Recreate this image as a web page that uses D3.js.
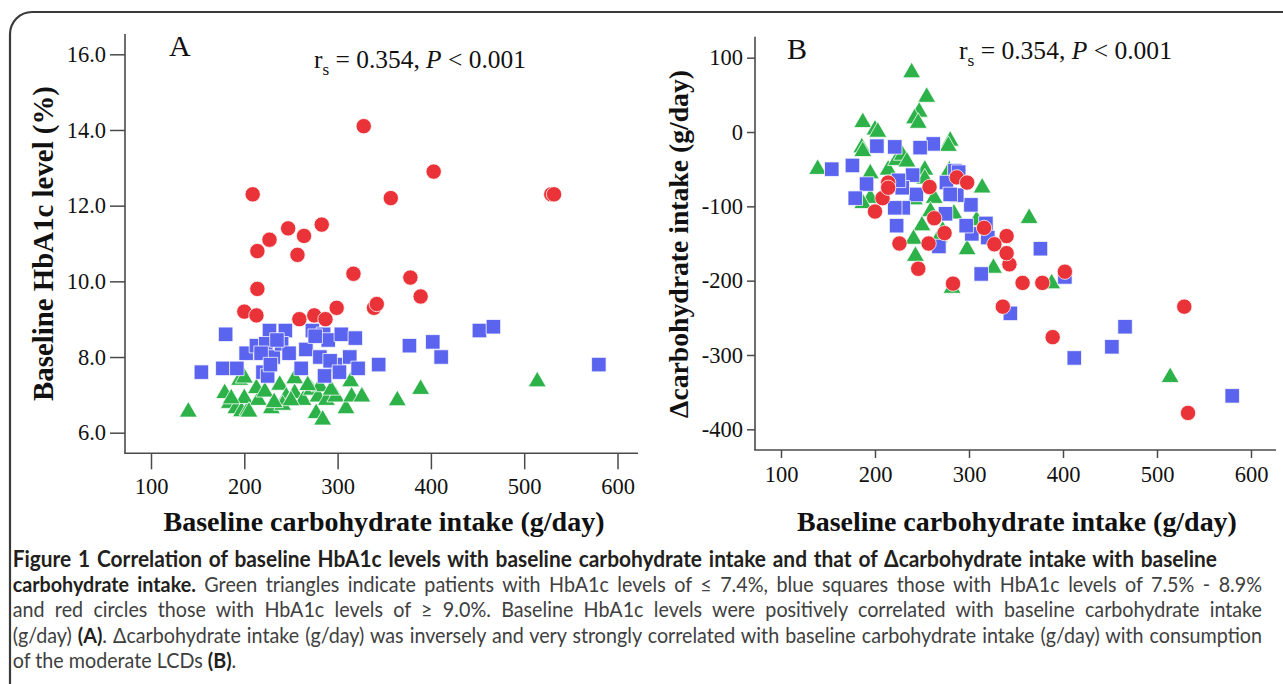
<!DOCTYPE html>
<html>
<head>
<meta charset="utf-8">
<script src="https://cdn.jsdelivr.net/npm/d3@7"></script>
<style>
html,body{margin:0;padding:0;background:#fff;overflow:hidden;}
svg{display:block;}
</style>
</head>
<body>
<svg id="chart" width="1283" height="684"></svg>
<script>
// ---------------- DATA ----------------
const xTicks = [100, 200, 300, 400, 500, 600];
const xTickLabels = ["100", "200", "300", "400", "500", "600"];
const yTicksA = [6, 8, 10, 12, 14, 16];
const yTickLabelsA = ["6.0", "8.0", "10.0", "12.0", "14.0", "16.0"];
const yTicksB = [-400, -300, -200, -100, 0, 100];
const yTickLabelsB = ["-400", "-300", "-200", "-100", "0", "100"];

const xTitle = "Baseline carbohydrate intake (g/day)";
const yTitleA = "Baseline HbA1c level (%)";
const yTitleB = "\u0394carbohydrate intake (g/day)";
const panelLetters = ["A", "B"];
const statParts = ["r", "s", " = 0.354, ", "P", " < 0.001"];

// Panel A: baseline carbohydrate intake vs baseline HbA1c (%)
const greenA = [[140,6.55],[179,7.04],[184,6.78],[191,6.64],[197,6.56],[204,6.6],[195,7.39],[200,6.91],[215,6.86],[213,7.17],[222,7.08],[229,6.64],[238,7.26],[245,6.95],[241,6.73],[254,7.43],[254,7.04],[263,6.86],[272,7.13],[279,6.95],[281,7.22],[277,6.51],[284,6.34],[288,6.86],[298,6.95],[293,7.13],[309,6.64],[314,7.35],[315,6.95],[326,6.95],[364,6.85],[389,7.15],[514,7.35],[186,6.9],[200,7.45],[232,6.8],[250,6.85],[268,7.25],[205,6.55]];
const blueA = [[154,7.6],[180,8.6],[177,7.7],[192,7.7],[202,8.1],[227,8.7],[244,8.7],[213,8.3],[223,8.35],[231,8.0],[220,7.6],[225,7.5],[240,8.35],[248,8.1],[266,8.2],[261,7.7],[273,8.7],[285,8.6],[281,8.0],[290,8.45],[304,8.6],[298,7.8],[292,7.9],[286,7.5],[302,7.6],[313,8.0],[319,8.5],[322,7.7],[344,7.8],[377,8.3],[402,8.4],[411,8.0],[452,8.7],[467,8.8],[580,7.8],[218,8.1],[235,8.45],[276,8.55],[228,7.8]];
const redA = [[328,14.1],[403,12.9],[209,12.3],[357,12.2],[529,12.3],[532,12.3],[247,11.4],[283,11.5],[227,11.1],[264,11.2],[214,10.8],[257,10.7],[214,9.8],[317,10.2],[378,10.1],[389,9.6],[200,9.2],[213,9.1],[259,9.0],[275,9.1],[287,9.0],[299,9.3],[339,9.3],[342,9.4]];

// Panel B: baseline carbohydrate intake vs change in carbohydrate intake (g/day)
const greenB = [[239,80],[255,47],[247,27],[242,18],[246,12],[187,13],[200,3],[203,0],[280,-12],[278,-19],[186,-21],[187,-26],[139,-50],[195,-56],[214,-51],[223,-38],[229,-31],[234,-40],[253,-51],[253,-63],[279,-52],[314,-75],[195,-89],[187,-96],[242,-91],[263,-89],[259,-107],[284,-110],[308,-119],[364,-116],[250,-126],[241,-144],[243,-167],[298,-158],[272,-133],[326,-183],[388,-204],[282,-210],[514,-330],[268,-142]];
const blueB = [[580,-355],[466,-262],[452,-289],[412,-304],[344,-244],[376,-157],[313,-191],[402,-195],[318,-123],[320,-142],[303,-137],[297,-126],[302,-98],[275,-110],[268,-154],[287,-85],[285,-52],[276,-68],[280,-84],[289,-54],[262,-16],[248,-21],[240,-58],[244,-84],[229,-75],[230,-102],[223,-126],[221,-102],[225,-65],[221,-20],[202,-19],[191,-70],[179,-89],[176,-45],[154,-50]];
const redB = [[529,-235],[533,-378],[389,-276],[336,-235],[402,-188],[378,-203],[357,-203],[283,-204],[246,-184],[343,-178],[340,-163],[340,-140],[327,-151],[316,-129],[274,-136],[263,-116],[257,-150],[226,-150],[200,-107],[208,-89],[214,-68],[214,-75],[258,-74],[287,-61],[298,-68]];

const captionLines = [
  [["Figure 1 Correlation of baseline HbA1c levels with baseline carbohydrate intake and that of \u0394carbohydrate intake with baseline", true]],
  [["carbohydrate intake.", true], [" Green triangles indicate patients with HbA1c levels of \u2264 7.4%, blue squares those with HbA1c levels of 7.5% - 8.9%", false]],
  [["and red circles those with HbA1c levels of \u2265 9.0%. Baseline HbA1c levels were positively correlated with baseline carbohydrate intake", false]],
  [["(g/day) ", false], ["(A)", true], [". \u0394carbohydrate intake (g/day) was inversely and very strongly correlated with baseline carbohydrate intake (g/day) with consumption", false]],
  [["of the moderate LCDs ", false], ["(B)", true], [".", false]]
];
// target right edge of each caption line (null = natural width)
const captionRight = [1217, 1262, 1262, 1262, null];

// ---------------- STYLE / LAYOUT ----------------
const W = 1283, H = 684;
const serif = "'Liberation Serif','Times New Roman',Times,serif";
const sans = "Lato,'Open Sans','Noto Sans',sans-serif";
const colors = {green: "#2db24a", blue: "#5a64ef", red: "#ea3338"};
const axisColor = "#4a4a4a";

const svg = d3.select("#chart");

// figure frame (rounded, extends past right & bottom)
svg.append("path")
  .attr("d", `M10,${H + 20} V34 A22,22 0 0 1 32,12 H${W + 20}`)
  .attr("fill", "none").attr("stroke", "#3a3a3a").attr("stroke-width", 2.2);

function fitWidth(sel, target) {
  const fs = parseFloat(sel.attr("font-size"));
  const len = sel.node().getComputedTextLength();
  sel.attr("font-size", fs * target / len);
}

const panels = [
  {
    yDomain: [6, 16], yTicks: yTicksA, yLabels: yTickLabelsA,
    xRange: [151, 617.5], yRange: [432.7, 54.3],
    axisX: 125, axisY: 453.3, yTop: 34, xEnd: 638,
    yTick: 15, yPad: 4, xTick: 16, xPad: 9, tickFont: 22.5,
    data: [greenA, blueA, redA],
    letter: {x: 169, y: 56}, stat: {x: 314, y: 68, w: 212},
    xTitle: {cx: 384, y: 531, w: 441}, yTitle: {cx: 43, cy: 243.5, w: 315, text: yTitleA}
  },
  {
    yDomain: [-400, 100], yTicks: yTicksB, yLabels: yTickLabelsB,
    xRange: [781, 1251], yRange: [429.3, 57.7],
    axisX: 755, axisY: 450, yTop: 36.7, xEnd: 1276,
    yTick: 8, yPad: 4, xTick: 8, xPad: 8, tickFont: 22.5,
    data: [greenB, blueB, redB],
    letter: {x: 787, y: 59}, stat: {x: 959, y: 59, w: 213},
    xTitle: {cx: 1017, y: 531, w: 440}, yTitle: {cx: 678, cy: 244, w: 348, text: yTitleB}
  }
];

const symbols = [
  {type: d3.symbolTriangle, size: 140, color: colors.green},
  {type: d3.symbolSquare, size: 210, color: colors.blue},
  {type: d3.symbolCircle, size: 185, color: colors.red}
];

panels.forEach((p, pi) => {
  const x = d3.scaleLinear().domain([100, 600]).range(p.xRange);
  const y = d3.scaleLinear().domain(p.yDomain).range(p.yRange);
  const g = svg.append("g");

  g.append("line").attr("x1", p.axisX).attr("x2", p.axisX).attr("y1", p.yTop).attr("y2", p.axisY)
    .attr("stroke", axisColor).attr("stroke-width", 1.6);
  g.append("line").attr("x1", p.axisX - 0.8).attr("x2", p.xEnd).attr("y1", p.axisY).attr("y2", p.axisY)
    .attr("stroke", axisColor).attr("stroke-width", 1.6);

  const ya = d3.axisLeft(y).tickValues(p.yTicks)
    .tickFormat((d, i) => p.yLabels[i]).tickSize(p.yTick).tickPadding(p.yPad).tickSizeOuter(0);
  const xa = d3.axisBottom(x).tickValues(xTicks)
    .tickFormat((d, i) => xTickLabels[i]).tickSize(p.xTick).tickPadding(p.xPad).tickSizeOuter(0);

  [g.append("g").attr("transform", `translate(${p.axisX},0)`).call(ya),
   g.append("g").attr("transform", `translate(0,${p.axisY})`).call(xa)].forEach(a => {
    a.select(".domain").remove();
    a.selectAll(".tick line").attr("stroke", axisColor).attr("stroke-width", 1.5);
    a.selectAll(".tick text").attr("font-family", serif).attr("font-size", p.tickFont).attr("fill", "#111");
  });

  p.data.forEach((series, si) => {
    const s = symbols[si];
    const gen = d3.symbol(s.type, s.size);
    g.append("g").selectAll("path").data(series).join("path")
      .attr("d", gen)
      .attr("transform", d => `translate(${x(d[0])},${y(d[1])})`)
      .attr("fill", s.color)
      .attr("stroke", "#ffffff").attr("stroke-opacity", 0.75).attr("stroke-width", 1);
  });

  g.append("text").attr("x", p.letter.x).attr("y", p.letter.y)
    .attr("font-family", serif).attr("font-size", 30).attr("fill", "#111").text(panelLetters[pi]);

  const st = g.append("text").attr("x", p.stat.x).attr("y", p.stat.y)
    .attr("font-family", serif).attr("font-size", 25).attr("fill", "#111");
  st.append("tspan").text(statParts[0]);
  st.append("tspan").attr("font-size", "0.68em").attr("dy", "0.38em").text(statParts[1]);
  st.append("tspan").attr("dy", "-0.26em").text(statParts[2]);
  st.append("tspan").attr("font-style", "italic").text(statParts[3]);
  st.append("tspan").text(statParts[4]);
  st.style("white-space", "pre");
  fitWidth(st, p.stat.w);

  const xt = g.append("text").attr("x", p.xTitle.cx).attr("y", p.xTitle.y)
    .attr("text-anchor", "middle").attr("font-family", serif).attr("font-weight", "bold")
    .attr("font-size", 26).attr("fill", "#111").text(xTitle);
  fitWidth(xt, p.xTitle.w);
  const yt = g.append("text").attr("transform", `translate(${p.yTitle.cx},${p.yTitle.cy}) rotate(-90)`)
    .attr("text-anchor", "middle").attr("dy", "0.35em").attr("font-family", serif).attr("font-weight", "bold")
    .attr("font-size", 26).attr("fill", "#111").text(p.yTitle.text);
  fitWidth(yt, p.yTitle.w);
});

// ---------------- CAPTION ----------------
const capLeft = 12.7, capBase0 = 567, capStep = 25.2, capStretchY = 1.08;
const capG = svg.append("g");
const capTexts = captionLines.map((line, li) => {
  const by = capBase0 + li * capStep;
  const t = capG.append("text").attr("x", capLeft).attr("y", 0)
    .attr("transform", `translate(0,${by}) scale(1,${capStretchY})`)
    .attr("font-family", sans).attr("font-size", 18).style("white-space", "pre");
  line.forEach(seg => {
    t.append("tspan").text(seg[0])
      .attr("font-weight", seg[1] ? "bold" : "normal")
      .attr("fill", seg[1] ? "#231f20" : "#404040");
  });
  return t;
});
const nSp = li => (captionLines[li].map(s => s[0]).join("").match(/ /g) || []).length;
// font size: last line reference width, but every justified regular line must still fit
let capSize = 18 * (245 - capLeft) / capTexts[4].node().getComputedTextLength();
[1, 2, 3].forEach(li => {
  const len = capTexts[li].node().getComputedTextLength();
  capSize = Math.min(capSize, 18 * (captionRight[li] - capLeft - nSp(li) * 1.0) / len);
});
capTexts.forEach(t => t.attr("font-size", capSize));
// bold heading line: slightly larger, up to its reference width
{
  const len = capTexts[0].node().getComputedTextLength();
  const s0 = Math.min(capSize * 1.06, capSize * (captionRight[0] - capLeft) / len);
  capTexts[0].attr("font-size", s0);
}
capTexts.forEach((t, li) => {
  if (captionRight[li] == null) return;
  const len = t.node().getComputedTextLength();
  const ws = (captionRight[li] - capLeft - len) / nSp(li);
  t.attr("word-spacing", Math.max(0, ws));
});
</script>
</body>
</html>
